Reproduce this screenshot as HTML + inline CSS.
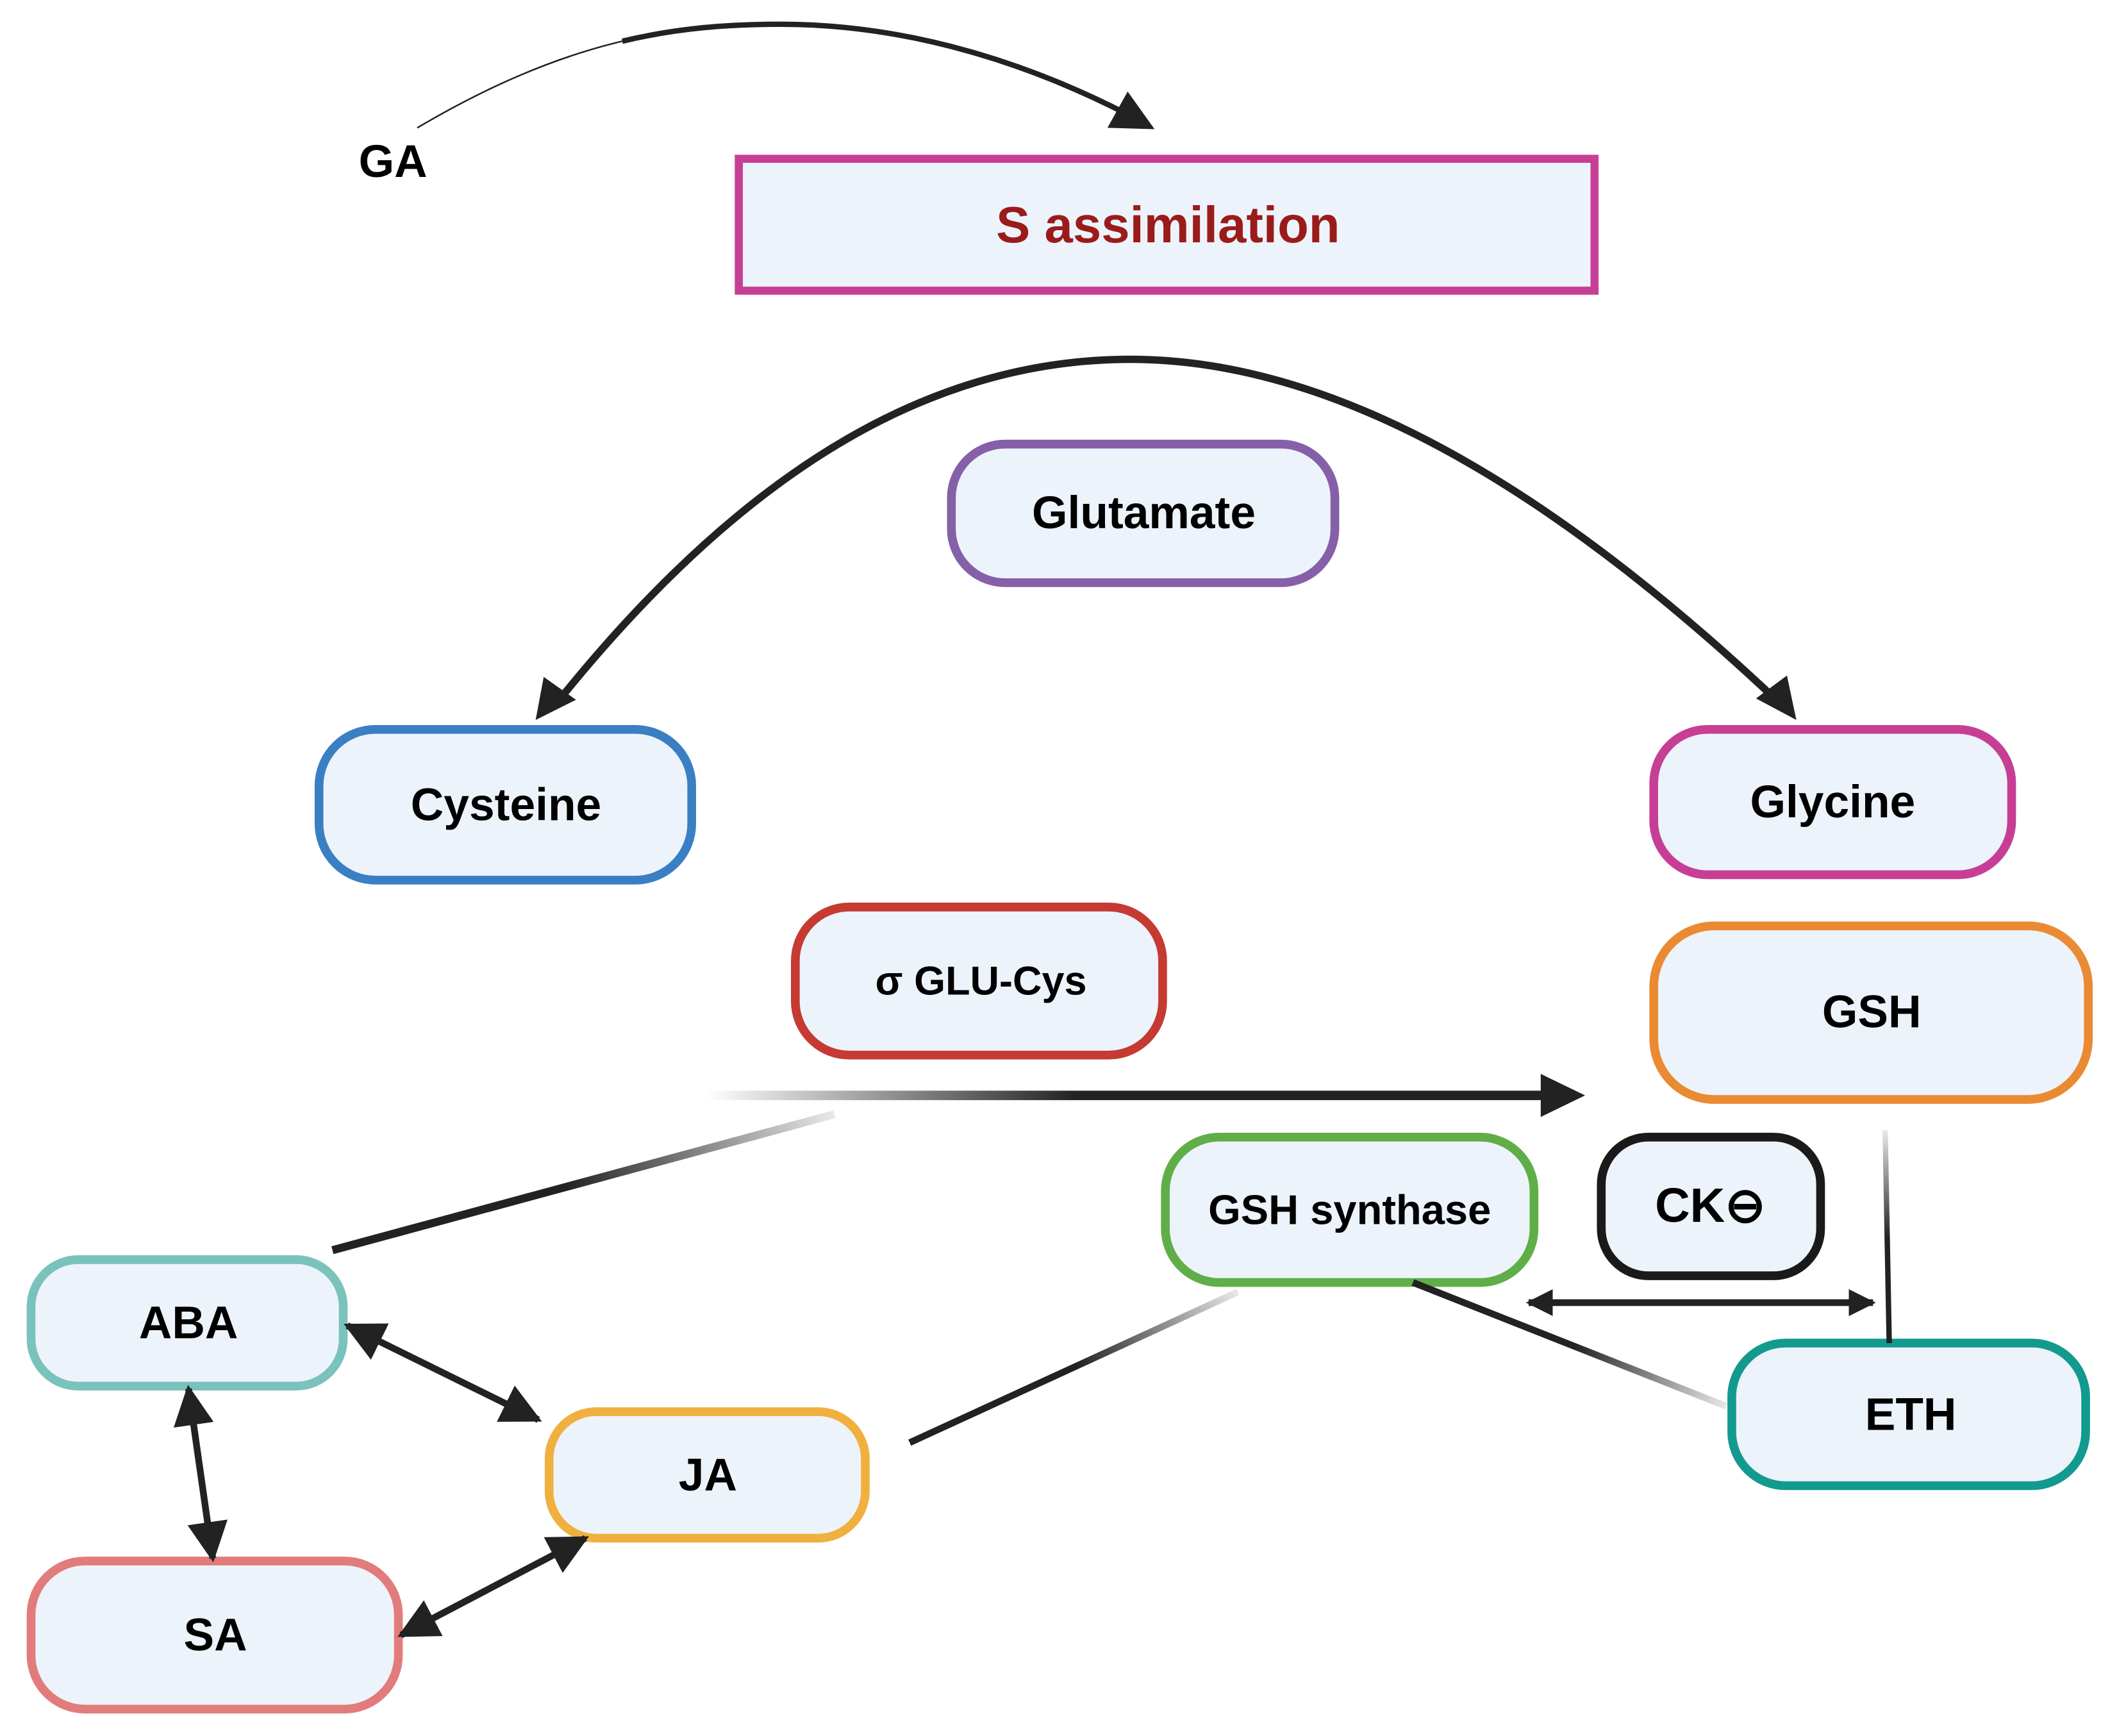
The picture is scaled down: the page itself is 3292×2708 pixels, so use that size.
<!DOCTYPE html>
<html><head><meta charset="utf-8"><style>
html,body{margin:0;padding:0;background:#fff;}
svg{display:block;}
text{font-family:"Liberation Sans",sans-serif;font-weight:bold;text-anchor:middle;dominant-baseline:central;}
</style></head><body>
<svg width="3292" height="2708" viewBox="0 0 1568 1290" xmlns="http://www.w3.org/2000/svg">
<defs>
<marker id="ah" viewBox="0 0 10 10" refX="9" refY="5" markerWidth="6" markerHeight="6" orient="auto-start-reverse" markerUnits="strokeWidth">
<path d="M0,0 L10,5 L0,10 z" fill="#222"/></marker>
<marker id="ah2" viewBox="0 0 10 10" refX="9" refY="5" markerWidth="4" markerHeight="4" orient="auto-start-reverse" markerUnits="strokeWidth">
<path d="M0,0 L10,5 L0,10 z" fill="#222"/></marker>
<linearGradient id="gh" x1="525" y1="0" x2="800" y2="0" gradientUnits="userSpaceOnUse"><stop offset="0" stop-color="#222" stop-opacity="0"/><stop offset="1" stop-color="#222"/></linearGradient>
<linearGradient id="g1" x1="620" y1="828" x2="420" y2="882" gradientUnits="userSpaceOnUse"><stop offset="0" stop-color="#222" stop-opacity="0.1"/><stop offset="1" stop-color="#222"/></linearGradient>
<linearGradient id="g2" x1="920" y1="960" x2="800" y2="1015" gradientUnits="userSpaceOnUse"><stop offset="0" stop-color="#222" stop-opacity="0.1"/><stop offset="1" stop-color="#222"/></linearGradient>
<linearGradient id="g3" x1="1283" y1="1045" x2="1170" y2="1000" gradientUnits="userSpaceOnUse"><stop offset="0" stop-color="#222" stop-opacity="0.1"/><stop offset="1" stop-color="#222"/></linearGradient>
<linearGradient id="g4" x1="0" y1="840" x2="0" y2="920" gradientUnits="userSpaceOnUse"><stop offset="0" stop-color="#222" stop-opacity="0.1"/><stop offset="1" stop-color="#222"/></linearGradient>
</defs>

<!-- GA arrow -->
<path d="M310,95 C420,30 500,18 580,18 C680,18 770,50 838,85" fill="none" stroke="#222" stroke-width="1.2"/>
<path d="M310,95 C420,30 500,18 580,18 C680,18 770,50 838,85" pathLength="100" stroke-dasharray="0 30 70" fill="none" stroke="#222" stroke-width="4"/>
<path d="M858,96 L823,95 L838,68 z" fill="#222"/>
<text x="292" y="120" font-size="34">GA</text>

<!-- S assimilation -->
<rect x="549" y="118" width="636" height="98" fill="#edf3fb" stroke="#c63f95" stroke-width="6"/>
<text x="868" y="167" font-size="38" fill="#9b1b1b">S assimilation</text>

<!-- big arc -->
<path d="M414,522 C560,340 700,267 840,267 C990,267 1150,360 1320,520" fill="none" stroke="#222" stroke-width="5.5"/>
<path d="M398,535 L404,503 L428,520 z" fill="#222"/>
<path d="M1335,535 L1305,519 L1328,502 z" fill="#222"/>

<!-- boxes -->
<g stroke-width="6.5" fill="#edf3fb">
<rect x="707" y="330" width="285" height="103" rx="40" stroke="#8560a8"/>
<rect x="237" y="542" width="277" height="112" rx="42" stroke="#3a7fc4"/>
<rect x="1229" y="542" width="266" height="108" rx="40" stroke="#c63f95"/>
<rect x="591" y="674" width="273" height="110" rx="40" stroke="#c53a32"/>
<rect x="1229" y="688" width="323" height="129" rx="45" stroke="#ea8a32"/>
<rect x="866" y="845" width="274" height="108" rx="40" stroke="#5fae47"/>
<rect x="1190" y="845" width="163" height="103" rx="35" stroke="#1a1a1a"/>
<rect x="1287" y="998" width="263" height="106" rx="40" stroke="#139a8f"/>
<rect x="23" y="936" width="232" height="94" rx="35" stroke="#7ac3bc"/>
<rect x="408" y="1049" width="235" height="94" rx="35" stroke="#f0b040"/>
<rect x="23" y="1160" width="273" height="110" rx="40" stroke="#e27c7c"/>
</g>
<text x="850" y="381" font-size="34">Glutamate</text>
<text x="376" y="598" font-size="34">Cysteine</text>
<text x="1362" y="596" font-size="34">Glycine</text>
<text x="729" y="729" font-size="30">σ GLU-Cys</text>
<text x="1391" y="752" font-size="34">GSH</text>
<text x="1003" y="899" font-size="31">GSH synthase</text>
<text x="1271" y="896" font-size="36">CK⊖</text>
<text x="1420" y="1051" font-size="34">ETH</text>
<text x="140" y="983" font-size="34">ABA</text>
<text x="526" y="1096" font-size="34">JA</text>
<text x="160" y="1215" font-size="34">SA</text>

<!-- connectors -->
<line x1="525" y1="814" x2="1150" y2="814" stroke="url(#gh)" stroke-width="7"/>
<path d="M1178,814 L1145,798 L1145,830 z" fill="#222"/>
<line x1="247" y1="929" x2="620" y2="828" stroke="url(#g1)" stroke-width="6"/>
<line x1="676" y1="1072" x2="920" y2="960" stroke="url(#g2)" stroke-width="5"/>
<line x1="1050" y1="953" x2="1283" y2="1045" stroke="url(#g3)" stroke-width="5"/>
<line x1="1401" y1="840" x2="1404" y2="998" stroke="url(#g4)" stroke-width="4"/>
<line x1="1136" y1="968" x2="1392" y2="968" stroke="#222" stroke-width="5" marker-start="url(#ah2)" marker-end="url(#ah2)"/>
<line x1="258" y1="985" x2="400" y2="1055" stroke="#222" stroke-width="5" marker-start="url(#ah)" marker-end="url(#ah)"/>
<line x1="140" y1="1032" x2="158" y2="1158" stroke="#222" stroke-width="5" marker-start="url(#ah)" marker-end="url(#ah)"/>
<line x1="298" y1="1215" x2="435" y2="1143" stroke="#222" stroke-width="5" marker-start="url(#ah)" marker-end="url(#ah)"/>
</svg>
</body></html>
